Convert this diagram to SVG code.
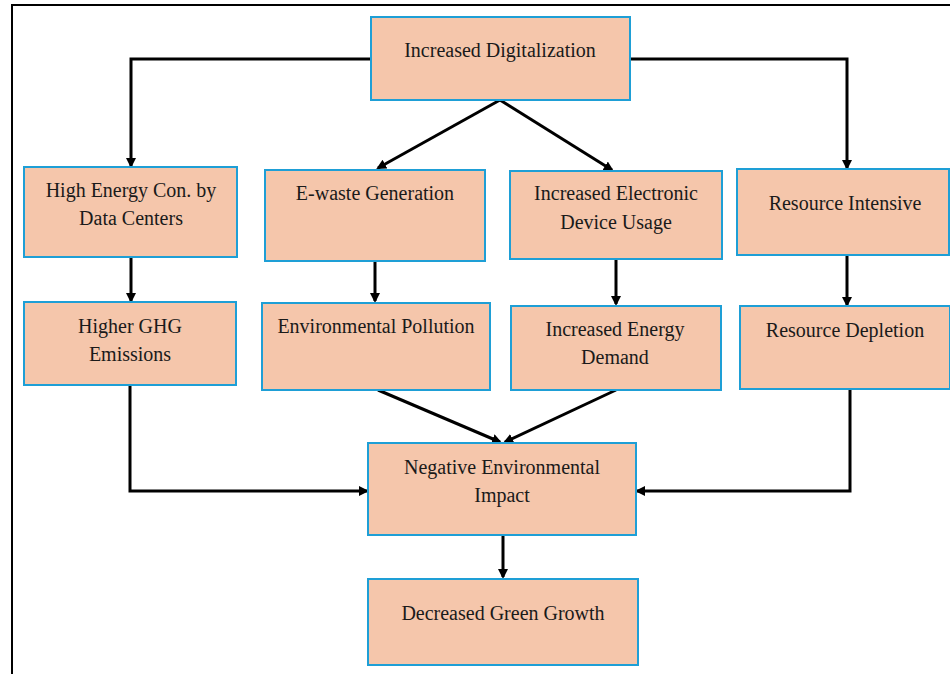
<svg xmlns="http://www.w3.org/2000/svg" width="950" height="674" viewBox="0 0 950 674">
<style>
.box{fill:#F5C6AB;stroke:#1E9FD6;stroke-width:2}
.t{font-family:'Liberation Serif','Times New Roman','DejaVu Serif',serif;font-size:20px;fill:#1a1a1a;text-anchor:middle}
.c{fill:none;stroke:#000;stroke-width:3;marker-end:url(#ah)}
</style>
<defs>
<marker id="ah" markerWidth="10" markerHeight="10" refX="8" refY="5" orient="auto" markerUnits="userSpaceOnUse">
<path d="M0,0 L10,5 L0,10 Z" fill="#000"/>
</marker>
</defs>
<rect width="950" height="674" fill="#fff"/>
<rect x="12" y="5" width="950" height="680" fill="none" stroke="#000" stroke-width="2"/>
<g id="connectors">
<path class="c" d="M371,59 H131 V166"/>
<path class="c" d="M630,59 H847 V168"/>
<path class="c" d="M500,100 L378,168"/>
<path class="c" d="M500,100 L612,170"/>
<path class="c" d="M131,257 V301"/>
<path class="c" d="M375,261 V301"/>
<path class="c" d="M616,259 V304"/>
<path class="c" d="M847,255 V305"/>
<path class="c" d="M130,385 V491 H367"/>
<path class="c" d="M850,389 V491 H637"/>
<path class="c" d="M378,390 L500,442"/>
<path class="c" d="M616,390 L505,442"/>
<path class="c" d="M503,535 V577"/>
</g>
<g id="n1"><rect class="box" x="371" y="17" width="259" height="83"/><text class="t" x="500" y="57">Increased Digitalization</text></g>
<g id="n2"><rect class="box" x="24" y="167" width="213" height="90"/><text class="t" x="131" y="197">High Energy Con. by</text><text class="t" x="131" y="225">Data Centers</text></g>
<g id="n3"><rect class="box" x="265" y="170" width="220" height="91"/><text class="t" x="375" y="200">E-waste Generation</text></g>
<g id="n4"><rect class="box" x="510" y="171" width="212" height="88"/><text class="t" x="616" y="200">Increased Electronic</text><text class="t" x="616" y="229">Device Usage</text></g>
<g id="n5"><rect class="box" x="737" y="169" width="212" height="86"/><text class="t" x="845" y="210">Resource Intensive</text></g>
<g id="n6"><rect class="box" x="24" y="302" width="212" height="83"/><text class="t" x="130" y="333">Higher GHG</text><text class="t" x="130" y="361">Emissions</text></g>
<g id="n7"><rect class="box" x="262" y="303" width="228" height="87"/><text class="t" x="376" y="333">Environmental Pollution</text></g>
<g id="n8"><rect class="box" x="511" y="306" width="210" height="84"/><text class="t" x="615" y="336">Increased Energy</text><text class="t" x="615" y="364">Demand</text></g>
<g id="n9"><rect class="box" x="740" y="306" width="210" height="83"/><text class="t" x="845" y="337">Resource Depletion</text></g>
<g id="n10"><rect class="box" x="368" y="443" width="268" height="92"/><text class="t" x="502" y="474">Negative Environmental</text><text class="t" x="502" y="502">Impact</text></g>
<g id="n11"><rect class="box" x="368" y="579" width="270" height="86"/><text class="t" x="503" y="620">Decreased Green Growth</text></g>
</svg>
